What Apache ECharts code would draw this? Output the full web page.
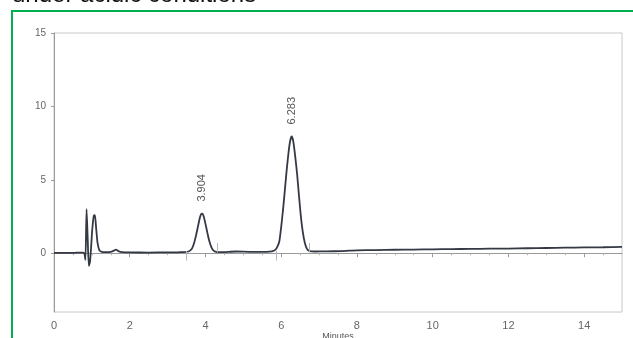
<!DOCTYPE html>
<html>
<head>
<meta charset="utf-8">
<script src="https://cdn.jsdelivr.net/npm/echarts@6/dist/echarts.min.js"></script>
<style>
html,body{margin:0;padding:0;background:#fff;}
#c{width:633px;height:338px;}
</style>
</head>
<body>
<div id="c"></div>
<script>
// ---- data ----
const times = [0, 0.2, 0.4, 0.6, 0.75, 0.8, 0.83, 0.86, 0.89, 0.92, 0.95, 0.98, 1.01, 1.05, 1.08, 1.11, 1.15, 1.2, 1.26, 1.35, 1.5, 1.58, 1.64, 1.7, 1.8, 2.0, 2.5, 3.0, 3.3, 3.45, 3.55, 3.6, 3.65, 3.7, 3.75, 3.8, 3.85, 3.88, 3.92, 3.96, 4.0, 4.05, 4.1, 4.15, 4.2, 4.28, 4.4, 4.8, 5.2, 5.6, 5.75, 5.85, 5.9, 5.95, 6.0, 6.05, 6.1, 6.15, 6.2, 6.24, 6.28, 6.32, 6.37, 6.42, 6.47, 6.52, 6.57, 6.62, 6.68, 6.75, 6.9, 7.2, 7.6, 8, 8.5, 9, 9.5, 10, 10.5, 11, 11.5, 12, 12.5, 13, 13.5, 14, 14.5, 15];
const signal = [0.02, 0.03, 0.02, 0.04, 0.05, 0.0, -0.45, 3.0, 1.0, -0.85, -0.6, 0.4, 1.6, 2.55, 2.6, 1.8, 0.7, 0.2, 0.1, 0.08, 0.1, 0.18, 0.25, 0.15, 0.08, 0.06, 0.05, 0.06, 0.07, 0.08, 0.12, 0.2, 0.35, 0.7, 1.2, 1.8, 2.4, 2.65, 2.7, 2.45, 2.0, 1.4, 0.85, 0.45, 0.22, 0.1, 0.08, 0.12, 0.1, 0.1, 0.13, 0.25, 0.45, 0.8, 1.8, 3.0, 4.4, 5.8, 7.0, 7.7, 7.95, 7.6, 6.6, 5.4, 3.9, 2.5, 1.45, 0.75, 0.3, 0.15, 0.12, 0.13, 0.15, 0.2, 0.22, 0.24, 0.25, 0.27, 0.28, 0.3, 0.31, 0.32, 0.34, 0.36, 0.38, 0.4, 0.41, 0.43];
const peakTimes = [3.904, 6.283];
const peakHeights = [2.7, 7.95];
const peakStarts = [3.48, 5.86];
const peakEnds = [4.30, 6.73];
const xTickLabels = [0, 2, 4, 6, 8, 10, 12, 14];
const yTickLabels = [0, 5, 10, 15];
const titleText = 'under acidic conditions';
const xAxisName = 'Minutes';

const chart = echarts.init(document.getElementById('c'), null, {renderer: 'canvas'});

const lineData = times.map((t, i) => [t, signal[i]]);
const markerLines = [];
peakStarts.forEach(t => markerLines.push([{coord: [t, 0.15]}, {coord: [t, -0.5]}]));
peakEnds.forEach(t => markerLines.push([{coord: [t, 0.7]}, {coord: [t, 0.05]}]));

chart.setOption({
  animation: false,
  backgroundColor: '#ffffff',
  graphic: [
    {type: 'text', left: 12, top: -17, z: 10,
      style: {text: titleText, fill: '#111', font: '24px "Liberation Sans", Arial, sans-serif'}},
    {type: 'rect', shape: {x: 12, y: 11, width: 700, height: 400}, z: 10,
      style: {fill: 'none', stroke: '#00b050', lineWidth: 2}}
  ],
  grid: {left: 54, right: 11, top: 33, bottom: 26, outerBoundsMode: 'none', containLabel: false,
    show: true, borderColor: '#c8c8c8', borderWidth: 1},
  xAxis: {
    type: 'value', min: 0, max: 15, interval: 2,
    name: xAxisName, nameLocation: 'middle', nameGap: 20, nameMoveOverlap: false,
    nameTextStyle: {color: '#555', fontSize: 9, fontFamily: 'Liberation Sans', verticalAlign: 'top'},
    axisLine: {show: true, lineStyle: {color: '#9a9a9a', width: 1}},
    axisTick: {show: true, length: 4, lineStyle: {color: '#9a9a9a'}, customValues: xTickLabels},
    minorTick: {show: true, splitNumber: 4, length: 2, lineStyle: {color: '#b0b0b0'}},
    axisLabel: {color: '#666', fontSize: 11, margin: 8, fontFamily: 'Liberation Sans', customValues: xTickLabels},
    splitLine: {show: false}
  },
  yAxis: {
    type: 'value', min: -4, max: 15,
    axisLine: {show: true, lineStyle: {color: '#9a9a9a', width: 1}},
    axisTick: {show: true, length: 3, lineStyle: {color: '#9a9a9a'}, customValues: yTickLabels},
    axisLabel: {color: '#666', fontSize: 10, margin: 8, fontFamily: 'Liberation Sans', customValues: yTickLabels},
    splitLine: {show: false}
  },
  series: [{
    type: 'line',
    data: lineData,
    showSymbol: false,
    smooth: 0.2,
    lineStyle: {color: '#343944', width: 1.8},
    markLine: {
      silent: true, symbol: 'none',
      lineStyle: {color: '#b8b8b8', width: 1, type: 'solid'},
      label: {show: false},
      data: markerLines
    },
    markPoint: {
      symbol: 'circle', symbolSize: 0,
      data: peakTimes.map((t, i) => ({coord: [t, peakHeights[i]], value: t.toFixed(3)})),
      label: {show: true, formatter: '{c}', position: 'top', distance: 12, rotate: 90,
        align: 'left', verticalAlign: 'middle', color: '#555', fontSize: 11, fontFamily: 'Liberation Sans'}
    }
  }]
});
</script>
</body>
</html>
